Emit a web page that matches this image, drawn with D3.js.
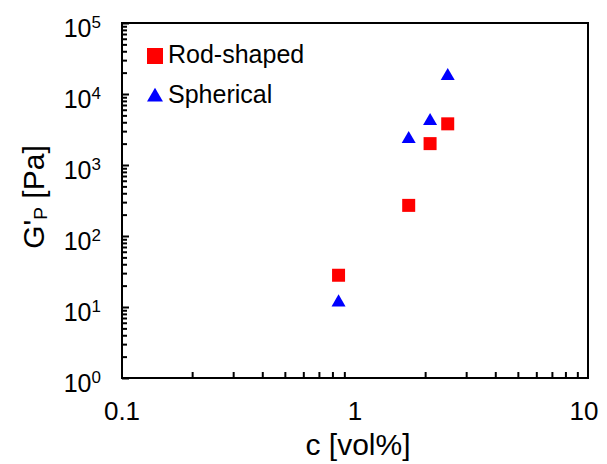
<!DOCTYPE html>
<html>
<head>
<meta charset="utf-8">
<script src="https://cdn.jsdelivr.net/npm/d3@7"></script>
<style>
  body { margin: 0; background: #fff; }
  svg { font-family: "Liberation Sans", Arial, sans-serif; }
</style>
</head>
<body>
<svg id="chart" width="607" height="464"></svg>
<script>
// data
const rodC = [0.85, 1.7, 2.1, 2.5];
const rodG = [28, 270, 2000, 3800];
const sphC = [0.85, 1.7, 2.1, 2.5];
const sphG = [12, 2400, 4300, 18500];
const xTicks = [0.1, 1, 10];
const yExps = [0, 1, 2, 3, 4, 5];
const seriesNames = ["Rod-shaped", "Spherical"];

const svg = d3.select("#chart");
const pL = 122, pR = 588, pT = 23, pB = 378;

const x = d3.scaleLog().domain([0.1, 10]).range([pL, pR]);
const y = d3.scaleLog().domain([1, 1e5]).range([pB, pT]);

// minor tick values
let xMinor = [], yMinor = [];
for (let d = 0.1; d < 10; d *= 10) for (let k = 2; k <= 9; k++) xMinor.push(d * k);
for (let d = 1; d < 1e5; d *= 10) for (let k = 2; k <= 9; k++) yMinor.push(d * k);

// x axis ticks (pointing inward / up)
svg.append("g").attr("transform", `translate(0,${pB})`)
  .call(d3.axisTop(x).tickValues(xMinor).tickSize(6).tickFormat(""))
  .call(g => g.select(".domain").remove())
  .call(g => g.selectAll("line").attr("stroke", "#000").attr("stroke-width", 2));

svg.append("g").attr("transform", `translate(${pL},0)`)
  .call(d3.axisRight(y).tickValues(yMinor).tickSize(5).tickFormat(""))
  .call(g => g.select(".domain").remove())
  .call(g => g.selectAll("line").attr("stroke", "#000").attr("stroke-width", 2));

svg.append("g").attr("transform", `translate(${pL},0)`)
  .call(d3.axisRight(y).tickValues(yExps.map(e => Math.pow(10, e))).tickSize(7).tickFormat(""))
  .call(g => g.select(".domain").remove())
  .call(g => g.selectAll("line").attr("stroke", "#000").attr("stroke-width", 2));

// frame
svg.append("rect")
  .attr("x", pL).attr("y", pT)
  .attr("width", pR - pL).attr("height", pB - pT)
  .attr("fill", "none").attr("stroke", "#000").attr("stroke-width", 2);

// x tick labels
svg.selectAll(".xl").data(xTicks).join("text")
  .attr("x", d => x(d) - (d === 10 ? 4 : 0)).attr("y", 420)
  .attr("text-anchor", "middle").attr("font-size", 26)
  .text(d => d);

// y tick labels 10^n
const yl = svg.selectAll(".yl").data(yExps).join("text")
  .attr("x", 101).attr("y", d => y(Math.pow(10, d)) + 14)
  .attr("text-anchor", "end").attr("font-size", 25);
yl.append("tspan").text("10");
yl.append("tspan").attr("font-size", 17).attr("dy", -9).text(d => d);

// axis titles
svg.append("text").attr("x", 358).attr("y", 455)
  .attr("text-anchor", "middle").attr("font-size", 30).text("c [vol%]");

const yt = svg.append("text")
  .attr("transform", "translate(44,197) rotate(-90)")
  .attr("text-anchor", "middle").attr("font-size", 30);
yt.append("tspan").text("G'");
yt.append("tspan").attr("font-size", 19).attr("dy", 3).text("P");
yt.append("tspan").attr("dy", -3).text(" [Pa]");

// markers
const sq = 13;
svg.selectAll(".rod").data(rodC).join("rect")
  .attr("x", (d, i) => x(d) - sq / 2).attr("y", (d, i) => y(rodG[i]) - sq / 2)
  .attr("width", sq).attr("height", sq).attr("fill", "#f00");

const tri = d3.symbol().type(d3.symbolTriangle).size(85);
svg.selectAll(".sph").data(sphC).join("path")
  .attr("d", tri)
  .attr("transform", (d, i) => `translate(${x(d)},${y(sphG[i]) + 1})`)
  .attr("fill", "#0000ff");

// legend
svg.append("rect").attr("x", 147).attr("y", 48).attr("width", 16).attr("height", 16).attr("fill", "#f00");
svg.append("path").attr("d", d3.symbol().type(d3.symbolTriangle).size(110))
  .attr("transform", "translate(155,97)").attr("fill", "#0000ff");
svg.append("text").attr("x", 168).attr("y", 63).attr("font-size", 25).text(seriesNames[0]);
svg.append("text").attr("x", 168).attr("y", 103).attr("font-size", 25).text(seriesNames[1]);
</script>
</body>
</html>
